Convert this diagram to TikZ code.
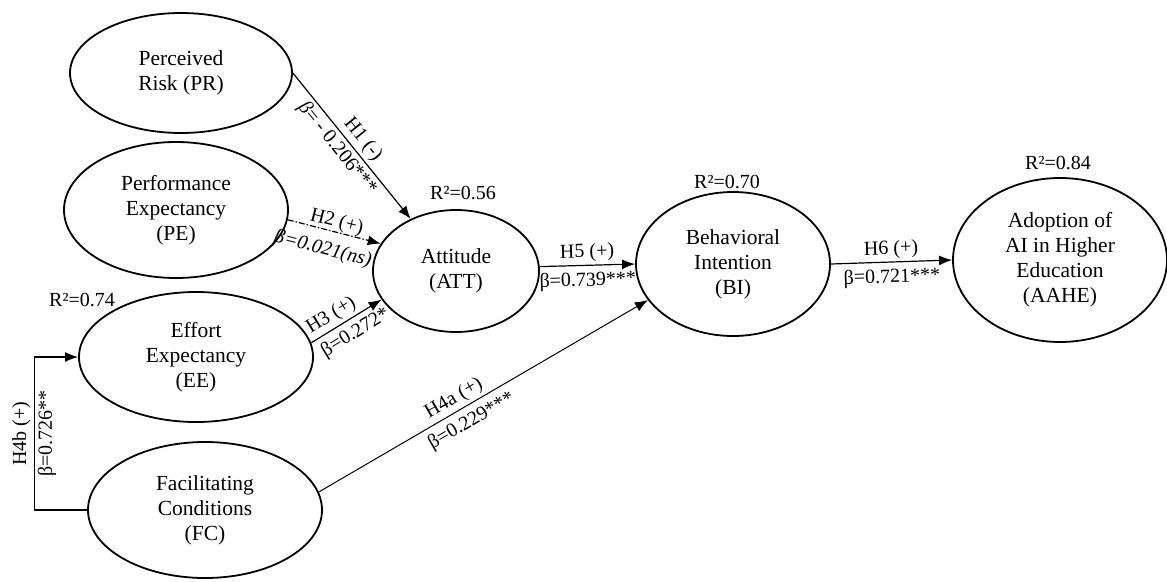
\documentclass[tikz,border=0pt]{standalone}
\usepackage{fontspec}
\setmainfont{Liberation Serif}
\usetikzlibrary{shapes.geometric,arrows.meta}
\begin{document}
\begin{tikzpicture}[x=1pt,y=-1pt,
  constr/.style={draw, ellipse, line width=1.8pt, inner sep=0pt, align=center,
    font=\fontsize{21.5}{25}\selectfont},
  link/.style={line width=1.2pt, -{Latex[length=13pt,width=10pt]}},
  lbl/.style={font=\fontsize{20}{22}\selectfont, sloped, inner sep=3pt},
  rsq/.style={font=\fontsize{20}{22}\selectfont, inner sep=0pt}
]
\useasboundingbox (0,0) rectangle (1167,581);

\node[constr, minimum width=222pt, minimum height=120pt] (PR) at (181,73) {Perceived\\Risk (PR)};
\node[constr, minimum width=224pt, minimum height=136pt] (PE) at (176,210) {Performance\\Expectancy\\(PE)};
\node[constr, minimum width=234pt, minimum height=130pt] (EE) at (196,357) {Effort\\Expectancy\\(EE)};
\node[constr, minimum width=234pt, minimum height=136pt] (FC) at (205,510) {Facilitating\\Conditions\\(FC)};
\node[constr, minimum width=166pt, minimum height=122pt] (ATT) at (456,271) {Attitude\\(ATT)};
\node[constr, minimum width=194pt, minimum height=144pt] (BI) at (733,264) {Behavioral\\Intention\\(BI)};
\node[constr, minimum width=214pt, minimum height=164pt] (AAHE) at (1060,260) {Adoption of\\AI in Higher\\Education\\(AAHE)};

\node[rsq] (r1) at (463,193) {R²=0.56};
\node[rsq] (r2) at (82,300) {R²=0.74};
\node[rsq] (r3) at (727,182) {R²=0.70};
\node[rsq] (r4) at (1058,163) {R²=0.84};

\draw[link] (PR.east) -- node[lbl, above, pos=0.51]{H1 (-)} node[lbl, below, pos=0.46]{\textit{β}= - 0.206***} (ATT.131);
\draw[link, dash pattern=on 6pt off 2pt on 1.5pt off 2pt] (PE.-5) -- node[lbl, above=-3pt, pos=0.5]{H2 (+)} node[lbl, below=7pt, pos=0.43]{\textit{β=0.021(ns)}} (ATT.160);
\draw[link] (EE.7) -- node[lbl, above, pos=0.38]{H3 (+)} node[lbl, below=2pt, pos=0.52]{β=0.272*} (ATT.201);
\draw[link, line width=1pt] (FC.9) -- node[lbl, above, pos=0.43]{H4a (+)} node[lbl, below=3pt, pos=0.44]{β=0.229***} (BI.203);
\draw[link] (FC.west) -- ++(-53,0) |- node[lbl, above, pos=0.25]{H4b (+)} node[lbl, below, pos=0.25]{β=0.726**} (EE.west);
\draw[link] (ATT.3) -- node[lbl, above]{H5 (+)} node[lbl, below=3pt]{β=0.739***} (BI.west);
\draw[link] (BI.east) -- node[lbl, above]{H6 (+)} node[lbl, below=3pt]{β=0.721***} (AAHE.west);
\end{tikzpicture}
\end{document}
